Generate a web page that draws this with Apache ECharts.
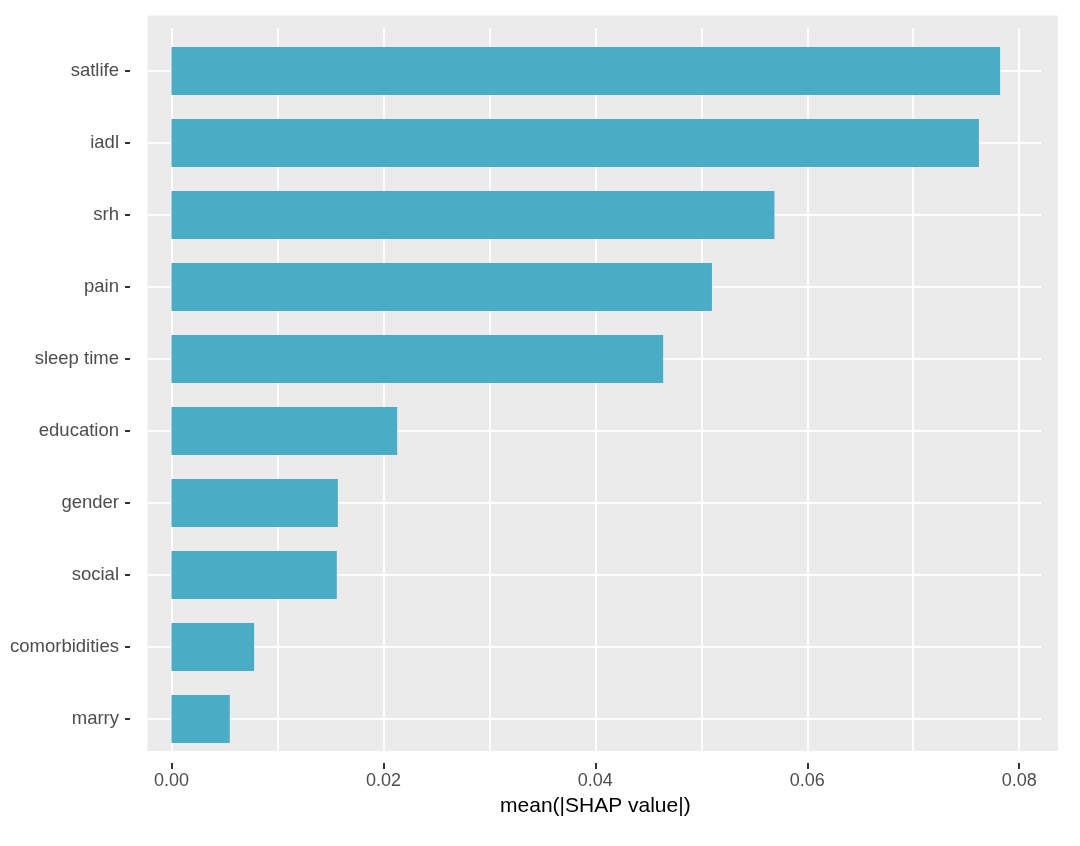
<!DOCTYPE html>
<html>
<head>
<meta charset="utf-8">
<title>mean(|SHAP value|)</title>
<script src="https://cdn.jsdelivr.net/npm/echarts@6/dist/echarts.min.js"></script>
<style>
  html, body { margin: 0; padding: 0; background: #fff; }
  #chart { width: 1080px; height: 846px; }
</style>
</head>
<body>
<div id="chart"></div>
<script>
// features, top to bottom
const features = ['satlife', 'iadl', 'srh', 'pain', 'sleep time', 'education', 'gender', 'social', 'comorbidities', 'marry'];
// mean(|SHAP value|)
const shapValues = [0.0782, 0.0762, 0.0569, 0.0510, 0.0464, 0.0213, 0.0157, 0.0156, 0.0078, 0.0055];
const xMin = 0;
const xMax = 0.08;
const xStep = 0.02;

const panelGrey = '#EBEBEB';
const barColor = '#4BACC6';
const tickText = '#4D4D4D';
const fontName = '"Liberation Sans", Arial, sans-serif';

const chart = echarts.init(document.getElementById('chart'));

const whiteLine = { color: '#fff', width: 1.8 };
const tickLine = { color: '#333', width: 2 };

const option = {
  backgroundColor: '#fff',
  animation: false,
  graphic: {
    elements: [{
      type: 'rect',
      z: -100,
      silent: true,
      shape: { x: 147.5, y: 15.5, width: 910.5, height: 735.5 },
      style: { fill: panelGrey }
    }]
  },
  grid: [
    // 0: horizontal gridlines at category centres
    { left: 147.5, right: 39, top: 71, height: 648 },
    // 1: vertical gridlines
    { left: 171.5, right: 60.8, top: 28, bottom: 95 },
    // 2: bars
    { left: 171.5, right: 60.8, top: 35, height: 720 },
    // 3: x ticks, labels and title
    { left: 171.5, right: 60.8, top: 28, bottom: 83 },
    // 4: y ticks and labels
    { left: 130, right: 39, top: 71, height: 648 }
  ],
  xAxis: [
    { gridIndex: 0, type: 'value', show: false, min: xMin, max: xMax },
    {
      gridIndex: 1,
      type: 'value',
      min: xMin,
      max: xMax,
      interval: xStep,
      axisLine: { show: false },
      axisTick: { show: false },
      axisLabel: { show: false },
      minorTick: { show: false, splitNumber: 2 },
      splitLine: { show: true, lineStyle: whiteLine },
      minorSplitLine: { show: true, lineStyle: whiteLine }
    },
    { gridIndex: 2, type: 'value', show: false, min: xMin, max: xMax },
    {
      gridIndex: 3,
      type: 'value',
      min: xMin,
      max: xMax,
      interval: xStep,
      name: 'mean(|SHAP value|)',
      nameLocation: 'middle',
      nameGap: 33,
      nameTextStyle: { color: '#000', fontSize: 21, fontFamily: fontName },
      axisLine: { show: false },
      axisTick: { show: true, length: 6, lineStyle: tickLine },
      axisLabel: {
        margin: 9,
        color: tickText,
        fontSize: 18,
        fontFamily: fontName,
        formatter: v => v.toFixed(2)
      },
      splitLine: { show: false }
    },
    { gridIndex: 4, type: 'value', show: false, min: xMin, max: xMax }
  ],
  yAxis: [
    {
      gridIndex: 0,
      type: 'category',
      data: features,
      inverse: true,
      boundaryGap: false,
      axisLine: { show: false },
      axisTick: { show: false },
      axisLabel: { show: false },
      splitLine: { show: true, interval: 0, lineStyle: whiteLine }
    },
    { gridIndex: 1, type: 'value', show: false, splitLine: { show: false } },
    { gridIndex: 2, type: 'category', data: features, inverse: true, show: false },
    { gridIndex: 3, type: 'value', show: false, splitLine: { show: false } },
    {
      gridIndex: 4,
      type: 'category',
      data: features,
      inverse: true,
      boundaryGap: false,
      axisLine: { show: false },
      axisTick: { show: true, interval: 0, length: 5, lineStyle: tickLine },
      axisLabel: {
        interval: 0,
        margin: 11,
        color: tickText,
        fontSize: 18.5,
        fontFamily: fontName
      },
      splitLine: { show: false }
    }
  ],
  series: [{
    type: 'bar',
    xAxisIndex: 2,
    yAxisIndex: 2,
    data: shapValues,
    barWidth: 48,
    itemStyle: { color: barColor },
    silent: true
  }]
};

chart.setOption(option);
</script>
</body>
</html>
